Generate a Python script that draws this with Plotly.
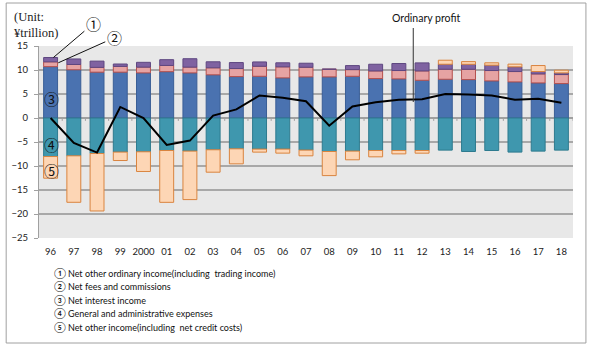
import plotly.graph_objects as go

years = ["96", "97", "98", "99", "2000", "01", "02", "03", "04", "05", "06", "07",
         "08", "09", "10", "11", "12", "13", "14", "15", "16", "17", "18"]

net_interest = [10.7, 10.05, 9.55, 9.55, 9.4, 9.65, 9.4, 9.0, 8.63, 8.69, 8.36, 8.57,
                8.57, 8.69, 8.21, 8.15, 7.86, 8.07, 8.0, 7.73, 7.52, 7.31, 7.17]
net_fees = [1.0, 1.1, 1.0, 1.2, 1.2, 1.3, 1.2, 1.46, 1.67, 2.09, 2.3, 2.0,
            1.6, 1.39, 1.6, 1.74, 1.95, 2.09, 2.15, 2.16, 2.16, 1.88, 1.88]
net_other_ordinary = [0.9, 1.15, 1.3, 0.5, 1.0, 1.2, 1.75, 1.25, 1.25, 0.9, 0.84, 0.84,
                      0.0, 0.84, 1.39, 1.46, 1.67, 1.04, 1.04, 1.11, 0.98, 0.49, 0.35]
ga_expenses = [-8.03, -7.88, -7.4, -7.1, -7.04, -6.77, -6.9, -6.62, -6.42, -6.48, -6.48, -6.69,
               -6.98, -6.9, -6.77, -6.77, -6.77, -6.69, -6.98, -6.77, -7.1, -6.9, -6.69]
net_other_income = [-4.51, -9.68, -11.97, -1.76, -4.1, -10.8, -10.1, -4.67, -3.13, -0.63, -0.84, -1.19,
                    -5.02, -1.81, -1.32, -0.7, -0.56, 0.84, 0.56, 0.5, 0.56, 1.25, 0.56]
ordinary_profit = [0.0, -5.2, -7.2, 2.3, 0.0, -5.6, -4.7, 0.5, 1.8, 4.7, 4.2, 3.5,
                   -1.6, 2.4, 3.3, 3.8, 3.9, 5.0, 4.9, 4.7, 3.8, 4.0, 3.2]

legend_marks = ["①", "②", "③", "④", "⑤"]
legend_texts = [
    "Net other ordinary income(including  trading income)",
    "Net fees and commissions",
    "Net interest income",
    "General and administrative expenses",
    "Net other income(including  net credit costs)",
]
y_ticks = [15, 10, 5, 0, -5, -10, -15, -20, -25]

xs = list(range(len(years)))
FONT = "Lato, 'Noto Sans', sans-serif"
CIRC = "'Noto Sans CJK JP', 'DejaVu Sans', sans-serif"

fig = go.Figure()
series = [
    ("③", net_interest, "#4a72b0", "#3a5e96"),
    ("②", net_fees, "#e6a3a3", "#b5504d"),
    ("①", net_other_ordinary, "#7f62a1", "#5e4780"),
    ("④", ga_expenses, "#3f97ae", "#2e7b8f"),
    ("⑤", net_other_income, "#fdd6b5", "#d9843f"),
]
for name, vals, fill, edge in series:
    fig.add_trace(go.Bar(x=xs, y=vals, name=name, marker=dict(color=fill, line=dict(color=edge, width=1))))

fig.add_trace(go.Scatter(x=xs, y=ordinary_profit, mode="lines", line=dict(color="black", width=2),
                         name="Ordinary profit"))

fig.update_layout(
    width=590, height=347,
    margin=dict(l=36, r=17, t=46, b=109),
    barmode="relative", bargap=0.4,
    plot_bgcolor="#e8e8e8", paper_bgcolor="white",
    showlegend=False,
    font=dict(family=FONT, size=10, color="#222"),
    xaxis=dict(range=[-0.5, len(years) - 0.5], tickvals=xs, ticktext=years, showgrid=False,
               zeroline=False, ticks="outside", ticklen=5, tickcolor="rgba(0,0,0,0)",
               tickfont=dict(size=9.5, family=FONT, color="#222")),
    yaxis=dict(range=[-25, 15], tickvals=y_ticks, showgrid=True, gridcolor="#a8a8a8", gridwidth=1.5,
               zeroline=True, zerolinecolor="#a0a0a0", zerolinewidth=1.5,
               showline=True, linecolor="#a0a0a0", linewidth=1,
               ticks="outside", ticklen=4, tickcolor="#a0a0a0", ticklabelstandoff=4,
               tickfont=dict(size=9.5, family=FONT, color="#222")),
)

shapes = []
for i in range(len(years)):
    shapes.append(dict(type="line", xref="x", yref="y", x0=i + 0.5, x1=i + 0.5, y0=0, y1=-0.6,
                       line=dict(color="#a0a0a0", width=1)))
shapes.append(dict(type="rect", xref="paper", yref="paper", x0=-33 / 537, x1=550 / 537,
                   y0=-105 / 192, y1=235 / 192, line=dict(color="#a0a0a0", width=1)))
shapes.append(dict(type="line", xref="x", yref="paper", x0=15.62, x1=15.62,
                   y0=(238 - 28) / 192, y1=(238 - 102) / 192, line=dict(color="#333", width=1)))
fig.update_layout(shapes=shapes)

ann = []
ann.append(dict(xref="paper", yref="paper", x=(9 - 36) / 537, y=(238 - 8) / 192, xanchor="left", yanchor="top",
                text="(Unit:<br>¥trillion)", showarrow=False, align="left",
                font=dict(family="'Liberation Serif', serif", size=12.5, color="#222")))
ann.append(dict(xref="paper", yref="paper", x=(425 - 36) / 537, y=(238 - 18) / 192, xanchor="center",
                yanchor="middle", text="Ordinary profit",
                showarrow=False, font=dict(size=10.5, family=FONT, color="#111")))
ann.append(dict(xref="x", yref="y", x=0.12, y=12.6, text="①", showarrow=True, arrowhead=0, arrowwidth=1,
                arrowcolor="#111", ax=40, ay=-34, font=dict(size=15, family=CIRC, color="#111")))
ann.append(dict(xref="x", yref="y", x=0.33, y=11.5, text="②", showarrow=True, arrowhead=0, arrowwidth=1,
                arrowcolor="#111", ax=56, ay=-25, font=dict(size=15, family=CIRC, color="#111")))
for txt, yv in [("③", 4.0), ("④", -5.6), ("⑤", -11.0)]:
    ann.append(dict(xref="x", yref="y", x=0.05, y=yv, text=txt, showarrow=False,
                    font=dict(size=15, family=CIRC, color="#111")))
leg_y = [272.7, 286.2, 299.7, 313.3, 327.0]
for mark, txt, py in zip(legend_marks, legend_texts, leg_y):
    ann.append(dict(xref="paper", yref="paper", x=(49 - 36) / 537, y=(238 - py) / 192, xanchor="left",
                    yanchor="middle", showarrow=False,
                    text=f"<span style=\"font-size:10.5px\">{mark}</span> {txt}",
                    font=dict(size=9, family=FONT, color="#111")))
fig.update_layout(annotations=ann)

fig.write_html("out.html")
